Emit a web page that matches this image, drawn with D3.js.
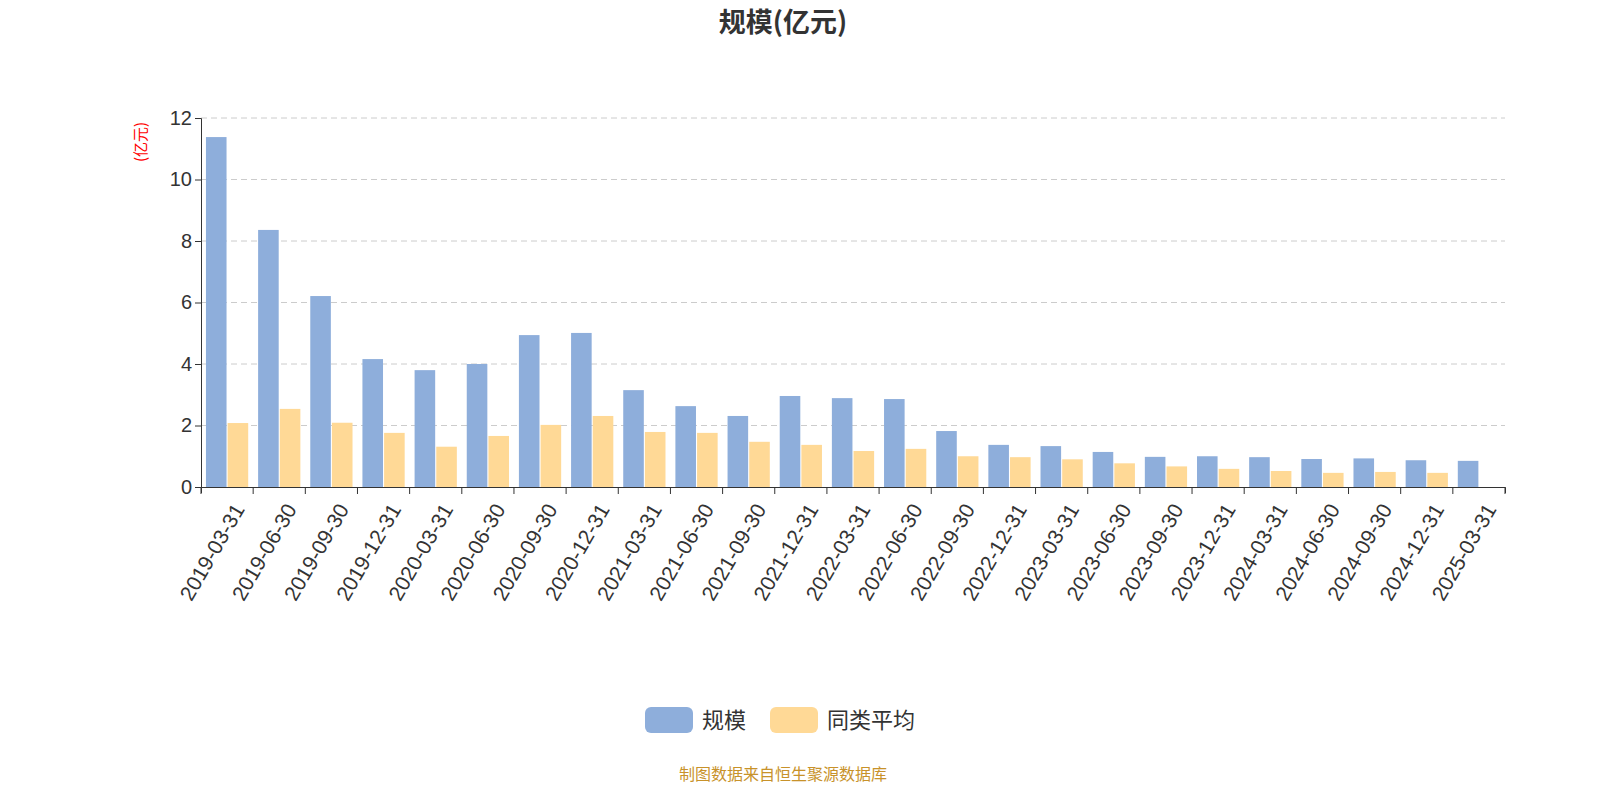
<!DOCTYPE html>
<html><head><meta charset="utf-8">
<script src="https://cdn.jsdelivr.net/npm/d3@7/dist/d3.min.js"></script>
<style>body{margin:0;background:#fff;font-family:"Noto Sans CJK SC","Noto Sans",sans-serif;}</style>
</head><body><svg id="chart" width="1600" height="800"></svg>
<script>
var dates = ['2019-03-31','2019-06-30','2019-09-30','2019-12-31','2020-03-31','2020-06-30','2020-09-30','2020-12-31',
  '2021-03-31','2021-06-30','2021-09-30','2021-12-31','2022-03-31','2022-06-30','2022-09-30','2022-12-31',
  '2023-03-31','2023-06-30','2023-09-30','2023-12-31','2024-03-31','2024-06-30','2024-09-30','2024-12-31','2025-03-31'];
var scale = [11.38,8.36,6.21,4.16,3.80,4.00,4.94,5.01,3.15,2.63,2.31,2.96,2.89,2.86,1.82,1.37,1.33,1.14,0.98,1.00,0.97,0.91,0.93,0.87,0.85];
var peerAvg = [2.08,2.54,2.09,1.76,1.31,1.66,2.02,2.31,1.79,1.76,1.47,1.37,1.17,1.24,1.00,0.97,0.90,0.77,0.67,0.59,0.52,0.46,0.49,0.46,null];
var yTicks = [0,2,4,6,8,10,12];
var seriesNames = ['规模','同类平均'];
var colors = ['#8eaedb','#ffd996'];

var svg = d3.select('#chart');
var pLeft = 201, pRight = 1505, pTop = 118, pBottom = 487;

var x = d3.scaleBand().domain(dates).range([pLeft, pRight]).paddingInner(0.19).paddingOuter(0.095);
var xs = d3.scaleBand().domain([0,1]).range([0, x.bandwidth()]).paddingInner(0.05);
var y = d3.scaleLinear().domain([0,12]).range([pBottom, pTop]);

svg.append('text').attr('x', 783).attr('y', 32).attr('text-anchor','middle')
  .attr('font-size', 27).attr('font-weight','bold').attr('fill','#333').text('规模(亿元)');

// grid
svg.append('g').selectAll('line').data(yTicks.slice(1)).enter().append('line')
  .attr('x1', pLeft).attr('x2', pRight).attr('y1', d => y(d)).attr('y2', d => y(d))
  .attr('stroke','#ccc').attr('stroke-dasharray','6,4');

var yAxis = svg.append('g').attr('transform','translate(' + pLeft + ',0)')
  .call(d3.axisLeft(y).tickValues(yTicks).tickSize(6));
yAxis.selectAll('text').attr('font-size', 20).attr('fill','#333');
yAxis.selectAll('line,path').attr('stroke','#333');

svg.append('text').attr('transform','translate(146,142) rotate(-90)').attr('text-anchor','middle')
  .attr('font-size', 15).attr('fill','red').text('(亿元)');

[scale, peerAvg].forEach(function(vals, i) {
  svg.append('g').selectAll('rect').data(dates.map((d, j) => [d, vals[j]]).filter(d => d[1] != null))
    .enter().append('rect')
    .attr('x', d => x(d[0]) + xs(i)).attr('width', xs.bandwidth())
    .attr('y', d => y(d[1])).attr('height', d => pBottom - y(d[1]))
    .attr('fill', colors[i]);
});

var xAxis = svg.append('g').attr('transform','translate(0,' + pBottom + ')')
  .call(d3.axisBottom(x).tickSize(6));
// ticks at band boundaries
xAxis.selectAll('.tick line').remove();
xAxis.selectAll('line.b').data(d3.range(dates.length + 1)).enter().append('line')
  .attr('x1', i => pLeft + i * (pRight - pLeft) / dates.length).attr('x2', i => pLeft + i * (pRight - pLeft) / dates.length)
  .attr('y1', 0).attr('y2', 7).attr('stroke','#333');
xAxis.select('path').attr('stroke','#333');
xAxis.selectAll('text').attr('font-size', 21).attr('fill','#333')
  .attr('text-anchor','end').attr('dy', '0.35em')
  .attr('transform','translate(4,14) rotate(-60)');

var legend = svg.append('g').attr('transform','translate(645,707)');
seriesNames.forEach(function(n, i) {
  var g = legend.append('g').attr('transform','translate(' + (i * 125) + ',0)');
  g.append('rect').attr('width', 48).attr('height', 26).attr('rx', 6).attr('fill', colors[i]);
  g.append('text').attr('x', 57).attr('y', 21).attr('font-size', 22).attr('fill','#333').text(n);
});

svg.append('text').attr('x', 783).attr('y', 780).attr('text-anchor','middle')
  .attr('font-size', 16).attr('fill','#c8922a').text('制图数据来自恒生聚源数据库');
</script></body></html>
